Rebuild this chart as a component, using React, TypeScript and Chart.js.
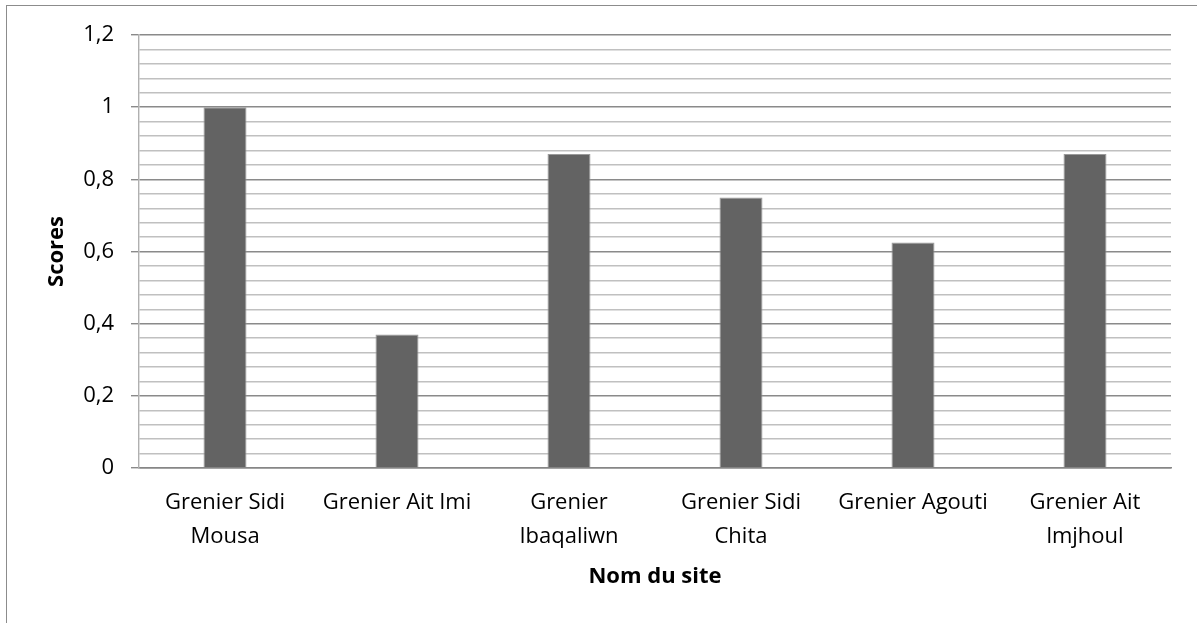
import React, { useEffect, useRef } from "react";
import { Chart, registerables } from "chart.js";

Chart.register(...registerables);

const categories: string[][] = [
  ["Grenier Sidi", "Mousa"],
  ["Grenier Ait Imi"],
  ["Grenier", "Ibaqaliwn"],
  ["Grenier Sidi", "Chita"],
  ["Grenier Agouti"],
  ["Grenier Ait", "lmjhoul"],
];
const scores: number[] = [1, 0.37, 0.87, 0.75, 0.625, 0.87];
const yMin = 0;
const yMax = 1.2;
const yMajorStep = 0.2;
const yMinorStep = 0.04;
const xTitle = "Nom du site";
const yTitle = "Scores";

const FONT = "'Open Sans', 'DejaVu Sans', sans-serif";

const isMajor = (v: number) =>
  Math.abs(v / yMajorStep - Math.round(v / yMajorStep)) < 1e-6;

export default function App() {
  const ref = useRef<HTMLCanvasElement>(null);
  useEffect(() => {
    if (!ref.current) return;
    const chart = new Chart(ref.current, {
      type: "bar",
      data: {
        labels: categories,
        datasets: [
          {
            data: scores,
            backgroundColor: "#636363",
            borderColor: "#9a9a9a",
            borderWidth: 1,
            barPercentage: 0.25,
            categoryPercentage: 1,
          },
        ],
      },
      options: {
        animation: false,
        responsive: false,
        devicePixelRatio: 1,
        layout: { padding: { left: 44, right: 26, top: 35, bottom: 33 } },
        plugins: { legend: { display: false }, tooltip: { enabled: false } },
        scales: {
          x: {
            grid: { display: false, drawTicks: false },
            border: { display: true, color: "#868686", width: 1.5 },
            ticks: {
              color: "#000",
              font: { family: FONT, size: 22, lineHeight: 1.55 },
              padding: 18,
              maxRotation: 0,
              autoSkip: false,
            },
            title: {
              display: true,
              text: xTitle,
              color: "#000",
              font: { family: FONT, size: 22, weight: "bold", lineHeight: 1.2 },
              padding: { top: 0, bottom: 0 },
            },
            afterFit: (s: any) => {
              s.height = 122;
            },
          },
          y: {
            min: yMin,
            max: yMax,
            ticks: {
              stepSize: yMinorStep,
              autoSkip: false,
              color: "#000",
              font: { family: FONT, size: 22 },
              padding: 17,
              callback: (v: any) =>
                isMajor(Number(v))
                  ? String(Math.round(Number(v) * 10) / 10).replace(".", ",")
                  : "",
            },
            grid: {
              color: (ctx: any) =>
                ctx.tick && isMajor(ctx.tick.value) ? "#8a8a8a" : "#c0c0c0",
              tickColor: (ctx: any) =>
                ctx.tick && isMajor(ctx.tick.value) ? "#8a8a8a" : "rgba(0,0,0,0)",
              lineWidth: 1.4,
              tickLength: 8,
            },
            border: { display: true, color: "#b0b0b0", width: 1.4 },
            title: {
              display: true,
              text: yTitle,
              color: "#000",
              font: { family: FONT, size: 22, weight: "bold", lineHeight: 1.2 },
              padding: { top: 0, bottom: 0 },
            },
            afterFit: (s: any) => {
              s.width = 95;
            },
          },
        },
      },
    });
    return () => chart.destroy();
  }, []);
  return (
    <div style={{ position: "fixed", left: 0, top: 0, width: 1197, height: 623, background: "#fff" }}>
      <div
        style={{
          position: "absolute",
          left: 6,
          top: 5,
          width: 1300,
          height: 700,
          borderLeft: "1.5px solid #8c8c8c",
          borderTop: "1.5px solid #8c8c8c",
        }}
      />
      <canvas ref={ref} width={1197} height={623} style={{ position: "absolute", left: 0, top: 0 }} />
    </div>
  );
}
